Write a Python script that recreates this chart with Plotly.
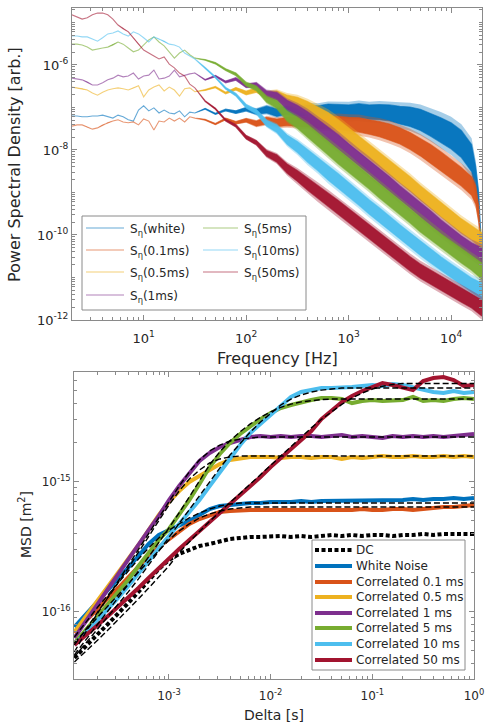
import numpy as np
import plotly.graph_objects as go

# ======================= TOP PANEL : power spectral densities =======================
# frequency axis, log10(f / Hz)
psd_logf_low = [0.30, 0.35, 0.40, 0.45, 0.50, 0.55, 0.60, 0.65, 0.70, 0.75, 0.80, 0.85, 0.90,
                0.95, 1.00, 1.05, 1.10, 1.15, 1.20, 1.25, 1.30, 1.35, 1.40, 1.45, 1.50]
psd_logf_high = [1.6, 1.7, 1.8, 1.9, 2.0, 2.1, 2.2, 2.3, 2.4, 2.5, 2.6, 2.7, 2.8, 2.9, 3.0,
                 3.1, 3.2, 3.3, 3.4, 3.5, 3.6, 3.7, 3.8, 3.9, 4.0, 4.1, 4.2]
psd_logf_end = [4.30]
psd_logf_end_cut = [4.24, 4.27, 4.29, 4.30]

# log10(PSD) – low-frequency single trace values
psd_white_low = [-7.20, -7.20, -7.22, -7.22, -7.20, -7.20, -7.18, -7.22, -7.25, -7.18, -7.22, -7.29, -7.32,
                 -7.06, -6.96, -7.08, -7.01, -7.13, -7.06, -7.13, -7.15, -7.08, -7.22, -7.11, -7.13]
psd_01_low = [-7.44, -7.41, -7.41, -7.46, -7.51, -7.48, -7.41, -7.36, -7.32, -7.29, -7.34, -7.36, -7.34,
              -7.41, -7.27, -7.32, -7.53, -7.32, -7.34, -7.25, -7.32, -7.25, -7.34, -7.22, -7.25]
psd_05_low = [-6.52, -6.54, -6.56, -6.59, -6.66, -6.71, -6.64, -6.59, -6.56, -6.54, -6.56, -6.59, -6.54,
              -6.49, -6.75, -6.59, -6.52, -6.47, -6.61, -6.52, -6.59, -6.73, -6.56, -6.54, -6.63]
psd_1_low = [-6.31, -6.33, -6.35, -6.40, -6.47, -6.47, -6.42, -6.35, -6.31, -6.24, -6.28, -6.26, -6.19,
             -6.33, -6.26, -6.24, -6.12, -6.33, -6.31, -6.26, -6.12, -6.28, -6.24, -6.21, -6.19]
psd_5_low = [-5.51, -5.51, -5.53, -5.58, -5.65, -5.62, -5.60, -5.58, -5.53, -5.46, -5.51, -5.60, -5.69,
             -5.65, -5.53, -5.41, -5.34, -5.46, -5.55, -5.69, -5.84, -5.72, -5.65, -5.76, -5.84]
psd_10_low = [-5.32, -5.32, -5.34, -5.34, -5.39, -5.44, -5.36, -5.27, -5.25, -5.20, -5.27, -5.32, -5.22,
              -5.27, -5.36, -5.46, -5.34, -5.39, -5.44, -5.51, -5.53, -5.58, -5.72, -5.79, -5.86]
psd_50_low = [-4.82, -4.87, -4.92, -4.89, -4.82, -4.78, -4.78, -4.82, -4.92, -5.06, -5.15, -5.22, -5.36,
              -5.51, -5.65, -5.72, -5.79, -5.86, -5.81, -5.98, -6.07, -6.19, -6.26, -6.45, -6.54]

# log10(PSD) – centre of the noisy band at higher frequencies
psd_white_high = [-7.03, -7.15, -7.06, -7.11, -7.04, -7.10, -7.05, -7.12, -7.06, -7.10, -7.07, -7.09, -7.06,
                  -7.08, -7.10, -7.08, -7.11, -7.11, -7.13, -7.18, -7.22, -7.29, -7.41, -7.53, -7.67, -7.86, -8.19]
psd_white_end = [-8.71, -9.29, -10.00, -10.59]
psd_01_high = [-7.29, -7.39, -7.27, -7.36, -7.30, -7.38, -7.31, -7.36, -7.33, -7.34, -7.34, -7.36, -7.36,
               -7.36, -7.39, -7.41, -7.46, -7.51, -7.58, -7.67, -7.79, -7.93, -8.09, -8.26, -8.45, -8.63, -8.85]
psd_01_end = [-9.06, -9.53, -10.59, -11.76]
psd_05_high = [-6.59, -6.52, -6.66, -6.56, -6.66, -6.59, -6.70, -6.70, -6.82, -6.89, -7.01, -7.15, -7.29,
               -7.46, -7.65, -7.84, -8.02, -8.21, -8.42, -8.61, -8.80, -9.01, -9.20, -9.41, -9.60, -9.79, -9.95]
psd_05_end = [-10.14]
psd_1_high = [-6.35, -6.26, -6.40, -6.33, -6.49, -6.47, -6.68, -6.74, -6.94, -7.08, -7.25, -7.44, -7.62,
              -7.81, -8.02, -8.21, -8.40, -8.61, -8.80, -9.01, -9.20, -9.41, -9.60, -9.81, -10.00, -10.19, -10.35]
psd_1_end = [-10.49]
psd_5_high = [-5.88, -5.96, -6.11, -6.22, -6.45, -6.55, -6.81, -6.93, -7.20, -7.36, -7.55, -7.76, -7.95,
              -8.16, -8.35, -8.56, -8.75, -8.96, -9.15, -9.36, -9.55, -9.76, -9.95, -10.14, -10.31, -10.49, -10.66]
psd_5_end = [-10.85]
psd_10_high = [-6.07, -6.29, -6.55, -6.70, -6.97, -7.10, -7.37, -7.50, -7.76, -7.93, -8.14, -8.33, -8.54,
               -8.73, -8.94, -9.13, -9.34, -9.53, -9.74, -9.93, -10.12, -10.31, -10.49, -10.68, -10.85, -11.01, -11.18]
psd_10_end = [-11.32]
psd_50_high = [-6.85, -7.03, -7.30, -7.43, -7.70, -7.83, -8.08, -8.20, -8.44, -8.61, -8.80, -8.99, -9.18,
               -9.36, -9.55, -9.74, -9.93, -10.12, -10.31, -10.49, -10.68, -10.85, -10.99, -11.13, -11.27, -11.41, -11.55]
psd_50_end = [-11.72]

# half-width of the dense noise band (decades)
spread_std = [0.01, 0.015, 0.02, 0.03, 0.04, 0.05, 0.07, 0.09, 0.11, 0.13, 0.15, 0.16, 0.17, 0.17,
              0.17, 0.17, 0.17, 0.17, 0.17, 0.17, 0.17, 0.17, 0.17, 0.17, 0.17, 0.17, 0.17]
spread_std_end = [0.19]
spread_white = [0.01, 0.015, 0.02, 0.03, 0.04, 0.06, 0.08, 0.09, 0.10, 0.11, 0.12, 0.13, 0.14, 0.15,
                0.16, 0.17, 0.17, 0.18, 0.19, 0.21, 0.23, 0.25, 0.27, 0.29, 0.31, 0.32, 0.32]
spread_white_end = [0.32, 0.26, 0.18, 0.12]
spread_01 = [0.01, 0.015, 0.02, 0.03, 0.04, 0.06, 0.08, 0.09, 0.10, 0.11, 0.12, 0.13, 0.14, 0.15,
             0.16, 0.17, 0.17, 0.18, 0.19, 0.19, 0.20, 0.21, 0.22, 0.22, 0.22, 0.22, 0.22]
spread_01_end = [0.22, 0.18, 0.14, 0.10]

psd_labels = ["S<sub>η</sub>(white)", "S<sub>η</sub>(0.1ms)", "S<sub>η</sub>(0.5ms)", "S<sub>η</sub>(1ms)",
              "S<sub>η</sub>(5ms)", "S<sub>η</sub>(10ms)", "S<sub>η</sub>(50ms)"]

# ======================= BOTTOM PANEL : MSD =======================
msd_loglag = [-3.93, -3.8, -3.7, -3.6, -3.5, -3.4, -3.3, -3.2, -3.1, -3.0, -2.9, -2.8, -2.7, -2.6,
              -2.5, -2.4, -2.3, -2.2, -2.1, -2.0, -1.9, -1.8, -1.7, -1.6, -1.5, -1.4, -1.3, -1.2,
              -1.1, -1.0, -0.9, -0.8, -0.7, -0.6, -0.5, -0.4, -0.3, -0.2, -0.1, 0.0]

msd_dc = [-16.356, -16.248, -16.172, -16.095, -16.018, -15.933, -15.848, -15.764, -15.672, -15.602,
          -15.556, -15.525, -15.495, -15.479, -15.456, -15.441, -15.433, -15.425, -15.425, -15.418,
          -15.418, -15.425, -15.418, -15.425, -15.418, -15.410, -15.418, -15.410, -15.418, -15.410,
          -15.410, -15.418, -15.410, -15.410, -15.402, -15.410, -15.402, -15.402, -15.402, -15.402]
msd_white = [-16.118, -16.002, -15.918, -15.833, -15.748, -15.664, -15.572, -15.479, -15.410, -15.372,
             -15.341, -15.302, -15.256, -15.210, -15.187, -15.179, -15.172, -15.164, -15.164, -15.156,
             -15.156, -15.156, -15.148, -15.156, -15.148, -15.148, -15.141, -15.148, -15.141, -15.141,
             -15.148, -15.141, -15.141, -15.133, -15.141, -15.133, -15.133, -15.125, -15.133, -15.125]
msd_01 = [-16.164, -16.056, -15.979, -15.895, -15.818, -15.733, -15.648, -15.572, -15.502, -15.441,
          -15.379, -15.325, -15.287, -15.256, -15.233, -15.225, -15.218, -15.218, -15.218, -15.218,
          -15.225, -15.225, -15.218, -15.218, -15.218, -15.225, -15.218, -15.218, -15.210, -15.218,
          -15.218, -15.210, -15.210, -15.218, -15.210, -15.202, -15.195, -15.195, -15.187, -15.179]
msd_05 = [-16.156, -16.018, -15.918, -15.818, -15.710, -15.602, -15.487, -15.372, -15.256, -15.156,
          -15.072, -15.002, -14.956, -14.902, -14.864, -14.833, -14.818, -14.810, -14.810, -14.810,
          -14.818, -14.810, -14.810, -14.818, -14.810, -14.810, -14.825, -14.810, -14.818, -14.810,
          -14.802, -14.810, -14.810, -14.802, -14.810, -14.810, -14.802, -14.810, -14.802, -14.810]
msd_1 = [-16.202, -16.048, -15.941, -15.825, -15.710, -15.602, -15.487, -15.372, -15.264, -15.141,
         -15.033, -14.933, -14.841, -14.779, -14.733, -14.702, -14.679, -14.656, -14.648, -14.656,
         -14.648, -14.656, -14.648, -14.648, -14.656, -14.648, -14.641, -14.656, -14.648, -14.656,
         -14.664, -14.648, -14.656, -14.648, -14.656, -14.648, -14.656, -14.648, -14.641, -14.633]
msd_5 = [-16.241, -16.118, -16.033, -15.941, -15.848, -15.756, -15.648, -15.548, -15.448, -15.364,
         -15.256, -15.141, -15.018, -14.887, -14.787, -14.702, -14.633, -14.572, -14.518, -14.472,
         -14.433, -14.410, -14.387, -14.372, -14.356, -14.356, -14.364, -14.395, -14.379, -14.372,
         -14.379, -14.379, -14.372, -14.348, -14.379, -14.372, -14.379, -14.364, -14.356, -14.364]
msd_10 = [-16.256, -16.148, -16.064, -15.979, -15.895, -15.802, -15.710, -15.610, -15.510, -15.418,
          -15.333, -15.241, -15.141, -15.033, -14.925, -14.818, -14.718, -14.625, -14.556, -14.495,
          -14.418, -14.348, -14.310, -14.295, -14.279, -14.279, -14.279, -14.272, -14.264, -14.256,
          -14.264, -14.248, -14.256, -14.272, -14.295, -14.310, -14.318, -14.302, -14.318, -14.310]
msd_50 = [-16.256, -16.164, -16.102, -16.033, -15.964, -15.895, -15.818, -15.741, -15.664, -15.587,
          -15.518, -15.448, -15.379, -15.310, -15.241, -15.179, -15.110, -15.041, -14.964, -14.887,
          -14.818, -14.748, -14.679, -14.610, -14.518, -14.448, -14.387, -14.341, -14.302, -14.272,
          -14.241, -14.256, -14.272, -14.295, -14.225, -14.202, -14.195, -14.218, -14.264, -14.256]

fit_white = [-16.195, -16.064, -15.964, -15.872, -15.779, -15.687, -15.595, -15.510, -15.433, -15.372,
             -15.325, -15.279, -15.241, -15.210, -15.187, -15.172, -15.164, -15.164, -15.164, -15.164,
             -15.164, -15.164, -15.164, -15.164, -15.164, -15.164, -15.164, -15.164, -15.164, -15.164,
             -15.164, -15.164, -15.164, -15.164, -15.164, -15.164, -15.164, -15.164, -15.164, -15.164]
fit_01 = [-16.241, -16.125, -16.041, -15.956, -15.872, -15.787, -15.695, -15.610, -15.525, -15.448,
          -15.379, -15.325, -15.279, -15.248, -15.225, -15.210, -15.202, -15.195, -15.195, -15.195,
          -15.195, -15.195, -15.195, -15.195, -15.195, -15.195, -15.195, -15.195, -15.195, -15.195,
          -15.195, -15.195, -15.195, -15.195, -15.195, -15.195, -15.195, -15.195, -15.195, -15.195]
fit_05 = [-16.256, -16.118, -16.002, -15.895, -15.779, -15.664, -15.541, -15.418, -15.295, -15.179,
          -15.072, -14.979, -14.910, -14.856, -14.825, -14.810, -14.802, -14.802, -14.802, -14.802,
          -14.802, -14.802, -14.802, -14.802, -14.802, -14.802, -14.802, -14.802, -14.802, -14.802,
          -14.802, -14.802, -14.802, -14.802, -14.802, -14.802, -14.802, -14.802, -14.802, -14.802]
fit_1 = [-16.310, -16.133, -16.010, -15.887, -15.764, -15.641, -15.518, -15.395, -15.272, -15.148,
         -15.033, -14.925, -14.833, -14.764, -14.718, -14.687, -14.672, -14.664, -14.656, -14.656,
         -14.656, -14.656, -14.656, -14.656, -14.656, -14.656, -14.656, -14.656, -14.656, -14.656,
         -14.656, -14.656, -14.656, -14.656, -14.656, -14.656, -14.656, -14.656, -14.656, -14.656]
fit_5 = [-16.333, -16.195, -16.095, -15.995, -15.895, -15.795, -15.687, -15.579, -15.472, -15.356,
         -15.240, -15.120, -14.995, -14.870, -14.770, -14.685, -14.615, -14.555, -14.505, -14.462,
         -14.428, -14.403, -14.386, -14.375, -14.368, -14.364, -14.364, -14.364, -14.364, -14.364,
         -14.364, -14.364, -14.364, -14.364, -14.364, -14.364, -14.364, -14.364, -14.364, -14.364]
fit_10 = [-16.348, -16.225, -16.133, -16.041, -15.948, -15.848, -15.748, -15.641, -15.541, -15.433,
          -15.325, -15.218, -15.110, -15.002, -14.895, -14.795, -14.702, -14.618, -14.541, -14.472,
          -14.410, -14.364, -14.333, -14.310, -14.295, -14.287, -14.279, -14.279, -14.279, -14.279,
          -14.279, -14.279, -14.279, -14.279, -14.279, -14.279, -14.279, -14.279, -14.279, -14.279]
fit_50 = [-16.387, -16.295, -16.218, -16.141, -16.064, -15.987, -15.902, -15.818, -15.733, -15.648,
          -15.545, -15.462, -15.383, -15.305, -15.230, -15.160, -15.090, -15.018, -14.943, -14.868,
          -14.796, -14.725, -14.655, -14.586, -14.520, -14.460, -14.405, -14.357, -14.318, -14.288,
          -14.266, -14.252, -14.245, -14.245, -14.245, -14.245, -14.245, -14.245, -14.245, -14.245]

msd_labels = ["DC", "White Noise", "Correlated 0.1 ms", "Correlated 0.5 ms", "Correlated 1 ms",
              "Correlated 5 ms", "Correlated 10 ms", "Correlated 50 ms"]

# tick labels
top_xtick_vals = [1e1, 1e2, 1e3, 1e4]
top_xtick_text = ["10<sup>1</sup>", "10<sup>2</sup>", "10<sup>3</sup>", "10<sup>4</sup>"]
top_ytick_vals = [1e-12, 1e-10, 1e-8, 1e-6]
top_ytick_text = ["10<sup>-12</sup>", "10<sup>-10</sup>", "10<sup>-8</sup>", "10<sup>-6</sup>"]
bot_xtick_vals = [1e-3, 1e-2, 1e-1, 1e0]
bot_xtick_text = ["10<sup>-3</sup>", "10<sup>-2</sup>", "10<sup>-1</sup>", "10<sup>0</sup>"]
bot_ytick_vals = [1e-16, 1e-15]
bot_ytick_text = ["10<sup>-16</sup>", "10<sup>-15</sup>"]

# ======================= styling =======================
W, H = 487, 726
FONT = "DejaVu Sans"
C = {
    "blue": (0, 114, 189), "orange": (217, 83, 25), "yellow": (237, 177, 32),
    "purple": (126, 47, 142), "green": (119, 172, 48), "lblue": (77, 190, 238), "red": (162, 20, 47),
}


def rgba(c, a):
    return "rgba(%d,%d,%d,%g)" % (c[0], c[1], c[2], a)


fig = go.Figure()

psd_series = [
    (psd_white_low, psd_white_high, psd_white_end, psd_logf_end_cut, spread_white, spread_white_end, "blue"),
    (psd_01_low, psd_01_high, psd_01_end, psd_logf_end_cut, spread_01, spread_01_end, "orange"),
    (psd_05_low, psd_05_high, psd_05_end, psd_logf_end, spread_std, spread_std_end, "yellow"),
    (psd_1_low, psd_1_high, psd_1_end, psd_logf_end, spread_std, spread_std_end, "purple"),
    (psd_5_low, psd_5_high, psd_5_end, psd_logf_end, spread_std, spread_std_end, "green"),
    (psd_10_low, psd_10_high, psd_10_end, psd_logf_end, spread_std, spread_std_end, "lblue"),
    (psd_50_low, psd_50_high, psd_50_end, psd_logf_end, spread_std, spread_std_end, "red"),
]


def band(logf, centre, half):
    xs = np.concatenate([10 ** logf, 10 ** logf[::-1]])
    ys = np.concatenate([10 ** (centre + half), 10 ** (centre - half)[::-1]])
    return xs, ys


for (low, high, end, fend, spr, spr_end, cname), label in zip(psd_series, psd_labels):
    logf = np.array(psd_logf_low + psd_logf_high + fend)
    centre = np.array(low + high + end)
    half = np.array([0.0] * len(low) + spr + spr_end)
    # faint outer fringe of the noise
    xs, ys = band(logf, centre, half * 1.45)
    fig.add_trace(go.Scatter(x=xs, y=ys, mode="lines", fill="toself", name=label,
                             fillcolor=rgba(C[cname], 0.35), line=dict(width=0),
                             xaxis="x", yaxis="y", showlegend=False, hoverinfo="skip"))
    # dense core of the noise band
    xs, ys = band(logf, centre, half)
    fig.add_trace(go.Scatter(x=xs, y=ys, mode="lines", fill="toself", name=label,
                             fillcolor=rgba(C[cname], 0.95), line=dict(color=rgba(C[cname], 0.6), width=1.1),
                             xaxis="x", yaxis="y", showlegend=False, hoverinfo="skip"))

lag = 10 ** np.array(msd_loglag)
fig.add_trace(go.Scatter(x=lag, y=10 ** np.array(msd_dc), mode="lines", name=msd_labels[0],
                         line=dict(color="black", width=4, dash="4px,2.5px"),
                         xaxis="x2", yaxis="y2", showlegend=False))
msd_series = [(msd_white, "blue"), (msd_01, "orange"), (msd_05, "yellow"), (msd_1, "purple"),
              (msd_5, "green"), (msd_10, "lblue"), (msd_50, "red")]
for (vals, cname), label in zip(msd_series, msd_labels[1:]):
    fig.add_trace(go.Scatter(x=lag, y=10 ** np.array(vals), mode="lines", name=label,
                             line=dict(color=rgba(C[cname], 1), width=4),
                             xaxis="x2", yaxis="y2", showlegend=False))
for vals in [fit_white, fit_01, fit_05, fit_1, fit_5, fit_10, fit_50]:
    fig.add_trace(go.Scatter(x=lag, y=10 ** np.array(vals), mode="lines", name="fit",
                             line=dict(color="black", width=1.4, dash="6px,3px"),
                             xaxis="x2", yaxis="y2", showlegend=False))

AX = "#8a8a8a"
common = dict(type="log", showline=True, linecolor=AX, linewidth=1, mirror="allticks",
              ticks="inside", ticklen=5, tickwidth=1, tickcolor=AX, showgrid=False, zeroline=False,
              tickmode="array", fixedrange=True, automargin=False,
              minor=dict(dtick="D1", ticks="inside", ticklen=3, tickwidth=1, tickcolor=AX, showgrid=False))

fig.update_layout(
    width=W, height=H, margin=dict(l=0, r=0, t=0, b=0, pad=0, autoexpand=False),
    paper_bgcolor="white", plot_bgcolor="white", showlegend=False,
    font=dict(family=FONT, color="#262626"),
    xaxis=dict(common, domain=[72 / W, 482 / W], range=[np.log10(2), np.log10(20000)],
               tickvals=top_xtick_vals, ticktext=top_xtick_text, tickfont=dict(size=13), anchor="y",
               ticklabelstandoff=6),
    yaxis=dict(common, domain=[1 - 320 / H, 1 - 8 / H], range=[-12, -4.66],
               tickvals=top_ytick_vals, ticktext=top_ytick_text, tickfont=dict(size=13), anchor="x"),
    xaxis2=dict(common, domain=[74 / W, 474 / W], range=[-3.934, 0],
                tickvals=bot_xtick_vals, ticktext=bot_xtick_text, tickfont=dict(size=12), anchor="y2",
                ticklabelstandoff=6),
    yaxis2=dict(common, domain=[1 - 679 / H, 1 - 372 / H], range=[-16.518, -14.156],
                tickvals=bot_ytick_vals, ticktext=bot_ytick_text, tickfont=dict(size=12), anchor="x2"),
)

shapes = []
annots = []


def px(x):
    return x / W


def py(y):
    return 1 - y / H


# axis titles
annots.append(dict(text="Frequency [Hz]", x=px(277), y=py(358), xref="paper", yref="paper",
                   showarrow=False, font=dict(size=16, family=FONT, color="#262626"),
                   xanchor="center", yanchor="middle"))
annots.append(dict(text="Power Spectral Density [arb.]", x=px(14), y=py(165), xref="paper", yref="paper",
                   showarrow=False, textangle=-90, font=dict(size=16, family=FONT, color="#262626"),
                   xanchor="center", yanchor="middle"))
annots.append(dict(text="Delta [s]", x=px(274), y=py(715), xref="paper", yref="paper",
                   showarrow=False, font=dict(size=14, family=FONT, color="#262626"),
                   xanchor="center", yanchor="middle"))
annots.append(dict(text="MSD [m<sup>2</sup>]", x=px(25), y=py(525), xref="paper", yref="paper",
                   showarrow=False, textangle=-90, font=dict(size=14, family=FONT, color="#262626"),
                   xanchor="center", yanchor="middle"))

# top legend (two columns)
shapes.append(dict(type="rect", xref="paper", yref="paper", x0=px(82), x1=px(306), y0=py(310), y1=py(216),
                   line=dict(color=AX, width=1), fillcolor="white", layer="above"))
top_leg_pos = [(86, 124, 128, 228), (86, 124, 128, 250), (86, 124, 128, 272), (86, 124, 128, 295),
               (203, 238, 242, 228), (203, 238, 242, 250), (203, 238, 242, 272)]
top_leg_cols = ["blue", "orange", "yellow", "purple", "green", "lblue", "red"]
for (x0, x1, xt, yr), cname, label in zip(top_leg_pos, top_leg_cols, psd_labels):
    shapes.append(dict(type="line", xref="paper", yref="paper", x0=px(x0), x1=px(x1), y0=py(yr), y1=py(yr),
                       line=dict(color=rgba(C[cname], 0.6), width=1.2), layer="above"))
    annots.append(dict(text=label, x=px(xt), y=py(yr + 2), xref="paper", yref="paper", showarrow=False,
                       xanchor="left", yanchor="middle", font=dict(size=12, family=FONT, color="#262626")))

# bottom legend
shapes.append(dict(type="rect", xref="paper", yref="paper", x0=px(312), x1=px(465), y0=py(670), y1=py(540),
                   line=dict(color=AX, width=1), fillcolor="white", layer="above"))
bot_rows = [550, 566, 582, 597, 613, 628, 644, 660]
bot_cols = [None, "blue", "orange", "yellow", "purple", "green", "lblue", "red"]
for yr, cname, label in zip(bot_rows, bot_cols, msd_labels):
    if cname is None:
        ln = dict(color="black", width=4, dash="4px,2.5px")
    else:
        ln = dict(color=rgba(C[cname], 1), width=4)
    shapes.append(dict(type="line", xref="paper", yref="paper", x0=px(315), x1=px(352), y0=py(yr), y1=py(yr),
                       line=ln, layer="above"))
    annots.append(dict(text=label, x=px(354), y=py(yr), xref="paper", yref="paper", showarrow=False,
                       xanchor="left", yanchor="middle", font=dict(size=12, family=FONT, color="#262626")))

fig.update_layout(shapes=shapes, annotations=annots)
fig.write_html("out.html")
